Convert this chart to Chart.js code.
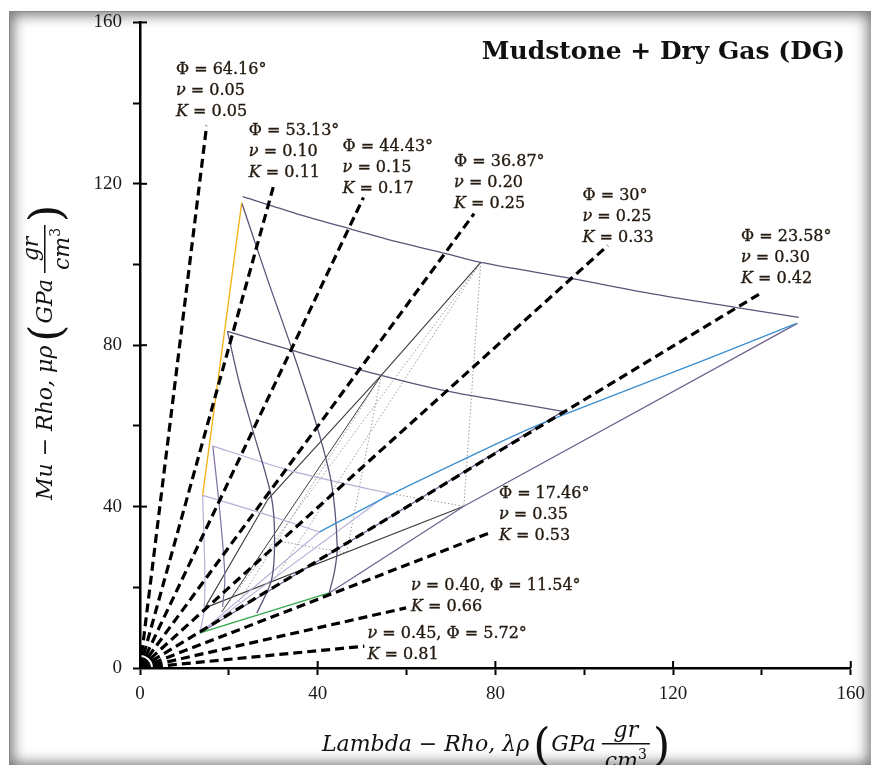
<!DOCTYPE html>
<html>
<head>
<meta charset="utf-8">
<script src="https://cdn.jsdelivr.net/npm/chart.js@4.4.1/dist/chart.umd.min.js"></script>
<style>
    html, body { margin: 0; padding: 0; background: #fff; }
    #frame {
        position: absolute; left: 9px; top: 11px; width: 861px; height: 754px;
        background: #fff;
        border-left: 1px solid #8a8a8a; border-top: 1px solid #8a8a8a;
        box-shadow: inset 0 0 14px 3px rgba(0, 0, 0, 0.55);
    }
    #chart { position: absolute; left: 0; top: 0; }
</style>
</head>
<body>
<div id="frame"></div>
<canvas id="chart" width="873" height="765"></canvas>
<script>
const xTickValues = [0, 40, 80, 120, 160];
const yTickValues = [0, 40, 80, 120, 160];

// dashed Poisson-ratio rays: they start at the origin and end here
const rayEndX = [15.0, 30.1, 50.3, 75.2, 105.3, 139.6, 79.2, 59.9, 50.5];
const rayEndY = [134.4, 119.6, 116.6, 112.6, 104.7, 92.8, 33.7, 14.9, 5.4];

// label blocks next to the rays
const labelX = [8.1, 24.5, 45.6, 70.7, 99.6, 135.3, 80.8, 61.0, 51.2];
const labelY = [148.3, 133.2, 129.2, 125.5, 117.1, 106.9, 43.1, 20.3, 8.4];
const labelPhi = ['64.16°', '53.13°', '44.43°', '36.87°', '30°', '23.58°', '17.46°', '11.54°', '5.72°'];
const labelNu = ['0.05', '0.10', '0.15', '0.20', '0.25', '0.30', '0.35', '0.40', '0.45'];
const labelK = ['0.05', '0.11', '0.17', '0.25', '0.33', '0.42', '0.53', '0.66', '0.81'];

// template mesh (lambda-rho, mu-rho)
const topCurve = [[23.1, 116.8], [35, 112.7], [47.1, 108.9], [58, 105.6], [68.9, 102.7], [76.7, 100.5], [97.2, 96.5], [115, 92.8], [134, 89.4], [148.3, 86.9]];
const rowTwo = [[19.7, 83.4], [34.3, 78.7], [54.3, 72.5], [69.1, 68.6], [87.5, 65.1], [95.2, 63.6]];
const rowThree = [[16.4, 55.0], [32.5, 49.3], [45.6, 45.8], [56.1, 43.3]];
const rowThreeEnd = [[56.1, 43.3], [72.9, 40.1]];
const rowFour = [[14.1, 42.8], [27.4, 38.4], [40.4, 33.7]];
const blueCurve = [[40.4, 33.7], [56.1, 42.8], [76.3, 53.5], [87.5, 59.2], [95, 62.6], [128.6, 77.0], [147.8, 85.4]];
const greenLine = [[13.5, 8.7], [42.6, 18.6]];
const bottomCurve = [[42.6, 18.6], [72.9, 40.1], [148.0, 85.4]];
const yellowLine = [[22.9, 115.3], [14.1, 42.8]];
const colOne = [[22.9, 115.3], [28.5, 97], [34.3, 78.7], [39.8, 60], [43.1, 45.8], [44.4, 30.0], [43.8, 24], [42.6, 18.6]];
const colTwo = [[19.7, 83.4], [22.4, 70.5], [25.4, 58.9], [29.6, 42.3], [30.3, 31.7], [29.6, 21.8], [26.3, 13.6]];
const colThree = [[16.4, 55.0], [18.0, 38.4], [19.1, 22.5], [18.6, 15.1]];
const colFour = [[14.1, 42.8], [14.6, 24], [14.4, 14], [13.5, 8.7]];
const fanA = [[13.5, 8.7], [40.4, 33.7]];
const fanB = [[13.5, 8.7], [56.1, 43.3]];
const fanC = [[13.5, 8.7], [95.2, 63.6]];
const blackA = [[76.7, 100.5], [54.3, 72.5], [28.8, 41.8], [14.6, 14.9]];
const blackB = [[72.9, 40.1], [14.6, 14.9]];
const blackC = [[54.3, 72.5], [18.4, 13.9]];
const dotA = [[76.7, 100.5], [72.9, 40.1]];
const dotB = [[54.3, 72.5], [46.5, 28.5]];
const dotC = [[76.7, 100.5], [18.4, 13.9]];
const dotD = [[76.7, 100.5], [30.3, 22]];
const dotE = [[54.3, 72.5], [22, 16]];
const dotF = [[32.5, 31.2], [46.5, 28.5]];

const DARK_PURPLE = '#5f5379';
const LIGHT_PURPLE = '#b8aed6';
const BLACK_LINE = '#3d3d3d';
const DOT_GREY = '#9c9c9c';
const TEXT = '#241a10';

function toPoints(arr) {
    return arr.map(p => ({ x: p[0], y: p[1] }));
}

function lineSet(arr, color, width, dash, tension) {
    return {
        data: toPoints(arr),
        showLine: true,
        pointRadius: 0,
        borderColor: color,
        borderWidth: width,
        borderDash: dash || [],
        tension: tension || 0,
        fill: false,
        clip: 0,
    };
}

function originRing(radius, filled) {
    return {
        data: [{ x: 0, y: 0 }],
        showLine: false,
        pointRadius: radius,
        pointBorderWidth: 2,
        pointBorderColor: '#000',
        pointBackgroundColor: filled ? '#000' : 'rgba(0,0,0,0)',
        clip: 0,
    };
}

const datasets = [];
datasets.push(originRing(6, true), originRing(10, false), originRing(14, false));
rayEndX.forEach((ex, i) => {
    const ds = lineSet([[0, 0], [ex, rayEndY[i]]], '#000', 3.2, [9, 5]);
    ds.borderCapStyle = 'butt';
    datasets.push(ds);
});
datasets.push(
    lineSet(yellowLine, '#f3b41b', 1.4),
    lineSet(blueCurve, '#3c8fd0', 1.4, null, 0.2),
    lineSet(greenLine, '#33a84b', 1.4),
    lineSet(topCurve, DARK_PURPLE, 1.3, null, 0.3),
    lineSet(rowTwo, DARK_PURPLE, 1.3, null, 0.3),
    lineSet(colOne, DARK_PURPLE, 1.3, null, 0.3),
    lineSet(colTwo, DARK_PURPLE, 1.3, null, 0.3),
    lineSet(bottomCurve, '#6f6590', 1.3),
    lineSet(fanC, '#6f6590', 1.2),
    lineSet(colThree, '#7c70a0', 1.2, null, 0.3),
    lineSet(rowThree, LIGHT_PURPLE, 1.2, null, 0.2),
    lineSet(rowFour, LIGHT_PURPLE, 1.2, null, 0.2),
    lineSet(colFour, LIGHT_PURPLE, 1.2, null, 0.2),
    lineSet(fanA, LIGHT_PURPLE, 1.1),
    lineSet(fanB, LIGHT_PURPLE, 1.1),
    lineSet(blackA, BLACK_LINE, 1.1),
    lineSet(blackB, BLACK_LINE, 1.1),
    lineSet(blackC, BLACK_LINE, 1.0),
    lineSet(rowThreeEnd, DOT_GREY, 1, [1.5, 2]),
    lineSet(dotA, DOT_GREY, 1, [1.5, 2]),
    lineSet(dotB, DOT_GREY, 1, [1.5, 2]),
    lineSet(dotC, DOT_GREY, 1, [1.5, 2]),
    lineSet(dotD, DOT_GREY, 1, [1.5, 2]),
    lineSet(dotE, DOT_GREY, 1, [1.5, 2]),
    lineSet(dotF, DOT_GREY, 1, [1.5, 2]),
);

function drawRuns(ctx, runs, x, y, size) {
    let cx = x;
    runs.forEach(([text, italic]) => {
        ctx.font = (italic ? 'italic ' : '') + size + 'px "DejaVu Serif"';
        ctx.fillText(text, cx, y);
        ctx.strokeText(text, cx, y);
        cx += ctx.measureText(text).width;
    });
}

// axis title with the (GPa gr/cm3) fraction
function drawAxisTitle(ctx, ox, oy, angle, mainText) {
    const it = 'italic 22px "DejaVu Serif"';
    ctx.save();
    ctx.translate(ox, oy);
    ctx.rotate(angle);
    ctx.textBaseline = 'alphabetic';
    ctx.textAlign = 'left';
    ctx.fillStyle = '#111';
    let cx = 0;
    ctx.font = it;
    ctx.fillText(mainText, 0, 0);
    cx += ctx.measureText(mainText).width + 4;
    ctx.font = '44px "DejaVu Serif"';
    ctx.fillText('(', cx, 9);
    cx += ctx.measureText('(').width + 1;
    ctx.font = it;
    ctx.fillText('GPa', cx, 0);
    cx += ctx.measureText('GPa').width + 6;
    const wNum = ctx.measureText('gr').width;
    const wCm = ctx.measureText('cm').width;
    ctx.font = 'italic 14px "DejaVu Serif"';
    const wSup = ctx.measureText('3').width;
    const fw = Math.max(wNum, wCm + wSup) + 6;
    ctx.font = it;
    ctx.fillText('gr', cx + (fw - wNum) / 2, -14);
    ctx.fillRect(cx, -8, fw, 1.5);
    const dx = cx + (fw - wCm - wSup) / 2;
    ctx.fillText('cm', dx, 17);
    ctx.font = '14px "DejaVu Serif"';
    ctx.fillText('3', dx + wCm, 8);
    cx += fw + 3;
    ctx.font = '44px "DejaVu Serif"';
    ctx.fillText(')', cx, 9);
    ctx.restore();
}

const annotations = {
    id: 'annotations',
    afterDraw(chart) {
        const { ctx, chartArea, scales: { x, y } } = chart;
        ctx.save();

        // inner halves of the major ticks
        ctx.strokeStyle = '#000';
        ctx.lineWidth = 2;
        xTickValues.forEach(v => {
            const px = x.getPixelForValue(v);
            ctx.beginPath();
            ctx.moveTo(px, chartArea.bottom);
            ctx.lineTo(px, chartArea.bottom - 7);
            ctx.stroke();
        });
        yTickValues.forEach(v => {
            const py = y.getPixelForValue(v);
            ctx.beginPath();
            ctx.moveTo(chartArea.left, py);
            ctx.lineTo(chartArea.left + 7, py);
            ctx.stroke();
        });

        // ray labels
        ctx.fillStyle = TEXT;
        ctx.strokeStyle = TEXT;
        ctx.lineWidth = 0.35;
        ctx.textBaseline = 'middle';
        ctx.textAlign = 'left';
        labelX.forEach((lx, i) => {
            const px = x.getPixelForValue(lx);
            const py = y.getPixelForValue(labelY[i]);
            let lines;
            if (i < 7) {
                lines = [
                    [['Φ', false], [' = ' + labelPhi[i], false]],
                    [['ν', true], [' = ' + labelNu[i], false]],
                    [['K', true], [' = ' + labelK[i], false]],
                ];
            } else {
                lines = [
                    [['ν', true], [' = ' + labelNu[i] + ', ', false], ['Φ', false], [' = ' + labelPhi[i], false]],
                    [['K', true], [' = ' + labelK[i], false]],
                ];
            }
            lines.forEach((runs, j) => drawRuns(ctx, runs, px, py + j * 21, 16));
        });

        // title
        ctx.fillStyle = '#111';
        ctx.font = 'bold 25px "DejaVu Serif"';
        ctx.textAlign = 'right';
        ctx.textBaseline = 'alphabetic';
        ctx.fillText('Mudstone + Dry Gas (DG)', 845, 59);

        drawAxisTitle(ctx, 322, 751, 0, 'Lambda − Rho, λρ');
        drawAxisTitle(ctx, 52, 500, -Math.PI / 2, 'Mu − Rho, μρ');
        ctx.restore();
    }
};

function axisOptions(isX) {
    return {
        type: 'linear',
        min: 0,
        max: 160,
        afterFit(scale) {
            if (isX) scale.height = 97;
            else scale.width = 140;
        },
        ticks: {
            stepSize: 20,
            autoSkip: false,
            maxRotation: 0,
            padding: isX ? 8 : 11,
            color: '#1a1a1a',
            font: { family: 'Liberation Serif', size: 19 },
            callback: v => (v % 40 === 0 ? String(v) : ''),
        },
        grid: {
            drawOnChartArea: false,
            drawTicks: true,
            tickLength: 7,
            tickWidth: 2,
            tickColor: '#000',
        },
        border: { color: '#000', width: 2.5 },
    };
}

new Chart(document.getElementById('chart'), {
    type: 'scatter',
    data: { datasets },
    options: {
        responsive: false,
        animation: false,
        layout: { padding: { top: 22, right: 20, left: 0, bottom: 0 } },
        plugins: {
            legend: { display: false },
            tooltip: { enabled: false },
        },
        scales: {
            x: axisOptions(true),
            y: axisOptions(false),
        },
    },
    plugins: [annotations],
});
</script>
</body>
</html>
